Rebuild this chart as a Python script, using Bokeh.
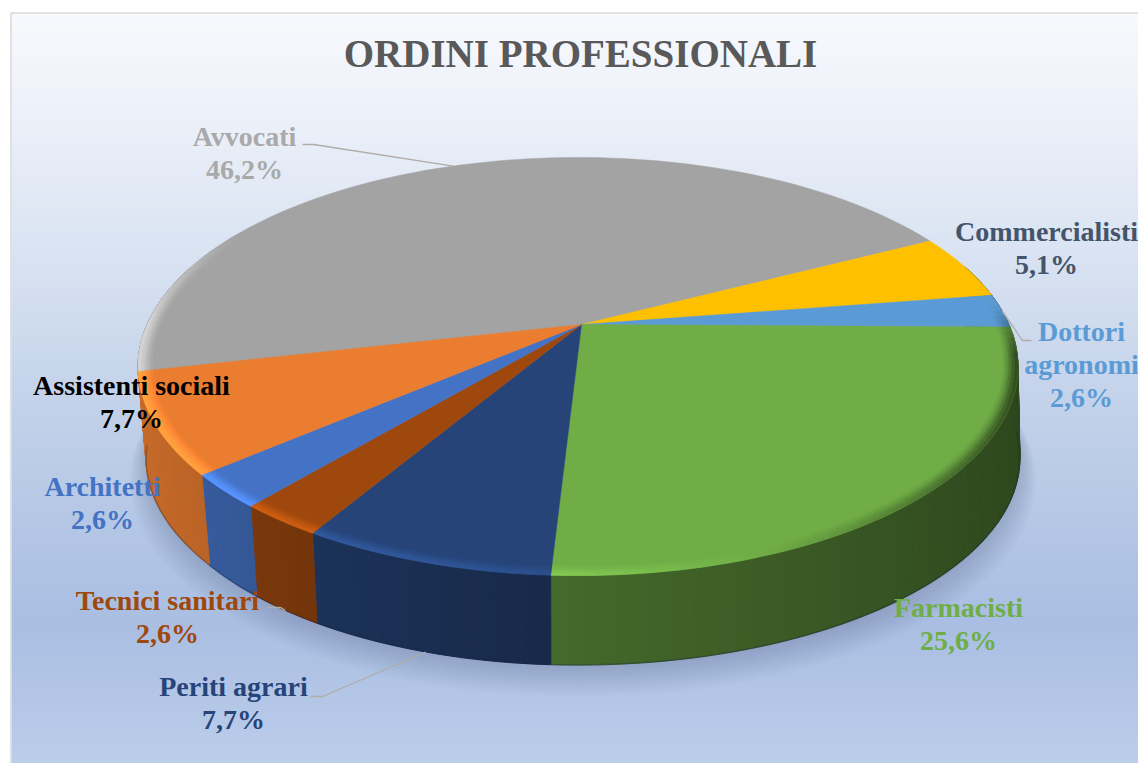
import math
from bokeh.plotting import figure
from bokeh.models import Range1d, ColumnDataSource
from bokeh.core.properties import value
from bokeh.embed import file_html
from bokeh.resources import INLINE

# ---------- data ----------
categories = ["Avvocati", "Commercialisti", "Dottori\nagronomi", "Farmacisti",
              "Periti agrari", "Tecnici sanitari", "Architetti", "Assistenti sociali"]
percent = [46.2, 5.1, 2.6, 25.6, 7.7, 2.6, 2.6, 7.7]
title = "ORDINI PROFESSIONALI"

# ---------- style / layout ----------
slice_colors = ["#a3a3a3", "#ffc000", "#5b9bd5", "#70ad47", "#264478", "#9e480e", "#4472c4", "#ea7d30"]
label_colors = ["#a9a9a9", "#44546a", "#5b9bd5", "#70ad47", "#264478", "#9e480e", "#4472c4", "#000000"]
label_xy = [(244, 136), (1046, 231), (1081, 331), (958, 607), (233, 686), (167, 600), (102, 486), (131, 385)]
line_gap = 33
leader_elbows = {0: [(302, 144), (313, 144)], 2: [(1031, 340), (1022, 340)],
                 4: [(310, 696), (322, 696)], 5: [(266, 607), (280, 607)]}
leader_on_bottom = {4, 5}
bg_stops = [(12, "#f7f9fd"), (130, "#eaeff8"), (250, "#d9e3f2"), (420, "#c0d0e9"),
            (620, "#a9bee2"), (763, "#bccdea")]
X0, Y0, A, B, K = 581.0, 324.0, 431.0, 200.6, 0.201
XS = 3.5
DY, S = 92.0, 0.99
START = 193.3


def rgb(h):
    return tuple(int(h[i:i + 2], 16) for i in (1, 3, 5))


def hexc(c):
    return "#%02x%02x%02x" % tuple(max(0, min(255, int(round(v)))) for v in c)


def shade(h, f):
    return hexc([v * f for v in rgb(h)])


def top_pt(theta, r=1.0):
    u, v = r * math.cos(math.radians(theta)), r * math.sin(math.radians(theta))
    d = 1 + K * v
    return X0 - XS * r + A * u / d, Y0 - B * v / d


def bottom_pt(theta, r=1.0, dy=DY):
    u, v = r * math.cos(math.radians(theta)), r * math.sin(math.radians(theta))
    d = 1 + K * v
    dx = min(8.0, 12 * abs(u) ** 1.5) if u < 0 else 2.0 * u
    return X0 - XS * r + dx + A * u / d, Y0 + dy - S * B * v / d


def frange(a, b, step):
    n = max(1, int(abs(b - a) / step))
    return [a + (b - a) * i / n for i in range(n + 1)]


def lerp_stops(y):
    for (y1, c1), (y2, c2) in zip(bg_stops, bg_stops[1:]):
        if y <= y2:
            t = (y - y1) / (y2 - y1)
            a, b = rgb(c1), rgb(c2)
            return hexc([a[i] + (b[i] - a[i]) * t for i in range(3)])
    return bg_stops[-1][1]


p = figure(width=1138, height=763, x_range=Range1d(0, 1138), y_range=Range1d(763, 0),
           toolbar_location=None, output_backend="svg", min_border=0)
p.axis.visible = False
p.grid.visible = False
p.outline_line_color = None
p.background_fill_color = "#ffffff"
p.border_fill_color = "#ffffff"

# background gradient
ys = list(range(12, 764, 4))
p.quad(left=[11] * len(ys), right=[1140] * len(ys), top=ys, bottom=[y + 5 for y in ys],
       fill_color=[lerp_stops(y) for y in ys], line_color=None)
p.segment(x0=[10.5, 10.5], y0=[12.5, 12.5], x1=[10.5, 1140], y1=[763, 12.5], line_color="#d9d9d9", line_width=1.5)

# soft shadow under the pie
for k in range(1, 11):
    r = 1.0 + 0.0035 * k
    pts = [bottom_pt(t, r, DY + 2.0 * k) for t in frange(0, 360, 3)]
    p.patch([q[0] for q in pts], [q[1] for q in pts], fill_color="#1f3a68", fill_alpha=0.018, line_color=None)

# slice angles
edges = [START]
for v in percent:
    edges.append(edges[-1] - v * 3.6)


# side wall
def wall_factor(u):
    if u < 0:
        return 0.60 + (-u) * 0.26
    return 0.60 - u * 0.20


wx, wy, wc = [], [], []
for i, col in enumerate(slice_colors):
    th = frange(edges[i], edges[i + 1], 1.0)
    for a, b in zip(th, th[1:]):
        if math.sin(math.radians((a + b) / 2)) > 0.30:
            continue
        ta, tb, bb, ba = top_pt(a), top_pt(b), bottom_pt(b), bottom_pt(a)
        wx.append([ta[0], tb[0], bb[0], ba[0]])
        wy.append([ta[1], tb[1], bb[1], ba[1]])
        wc.append(shade(col, wall_factor(math.cos(math.radians((a + b) / 2)))))
p.patches("x", "y", source=ColumnDataSource(dict(x=wx, y=wy, c=wc)), fill_color="c", line_color="c", line_width=1.0)

# dark seam along the wall foot
pts = [bottom_pt(t) for t in frange(-172, -4, 3)]
p.line([q[0] for q in pts], [q[1] for q in pts], line_color="#12203a", line_alpha=0.3, line_width=1.5)

# top surface
tx, ty, tc = [], [], []
for i, col in enumerate(slice_colors):
    th = frange(edges[i], edges[i + 1], 1.5)
    pts = [(X0, Y0)] + [top_pt(t) for t in th]
    tx.append([q[0] for q in pts])
    ty.append([q[1] for q in pts])
    tc.append(col)
p.patches("x", "y", source=ColumnDataSource(dict(x=tx, y=ty, c=tc)), fill_color="c", line_color="c", line_width=0.5)


# bevelled rim
def rim_factor(theta, band):
    u, v = math.cos(math.radians(theta)), math.sin(math.radians(theta))
    front = max(0.0, min(1.0, (0.5 - v) / 0.5))
    light = max(-1.0, min(1.0, (0.35 - u) / 0.7))
    if light >= 0:
        return 1 + 0.30 * light * front * band
    dark = max(0.0, min(1.0, (0.10 - v) / 0.25))
    return 1 - 0.62 * (-light) * dark * band


rx, ry, rc = [], [], []
rings = [(0.968, 0.974, 0.12), (0.974, 0.980, 0.3), (0.980, 0.986, 0.55), (0.986, 0.993, 0.8), (0.993, 1.0, 1.0)]
for i, col in enumerate(slice_colors):
    th = frange(edges[i], edges[i + 1], 1.5)
    for a, b in zip(th, th[1:]):
        for r0, r1, band in rings:
            f = rim_factor((a + b) / 2, band)
            if abs(f - 1) < 0.01:
                continue
            q = [top_pt(a, r0), top_pt(b, r0), top_pt(b, r1), top_pt(a, r1)]
            rx.append([c[0] for c in q])
            ry.append([c[1] for c in q])
            rc.append(shade(col, f))
p.patches("x", "y", source=ColumnDataSource(dict(x=rx, y=ry, c=rc)), fill_color="c", line_color="c", line_width=0.5)

# leader lines
for i, elbow in leader_elbows.items():
    mid = (edges[i] + edges[i + 1]) / 2
    end = bottom_pt(mid) if i in leader_on_bottom else top_pt(mid)
    pts = elbow + [end]
    p.line([q[0] for q in pts], [q[1] for q in pts], line_color="#b0aca6", line_width=1.3)

# labels
lx, ly, lt, lc = [], [], [], []
for name, v, (x, y), c in zip(categories, percent, label_xy, label_colors):
    rows = name.split("\n") + [f"{v:.1f}".replace(".", ",") + "%"]
    for k, row in enumerate(rows):
        lx.append(x)
        ly.append(y + k * line_gap)
        lt.append(row)
        lc.append(c)
p.text(lx, ly, text=lt, text_color=lc, text_align="center", text_baseline="middle",
       text_font=value("Liberation Serif"), text_font_style="bold", text_font_size=value("28px"))
p.text([580], [53], text=[title], text_color="#595959", text_align="center", text_baseline="middle",
       text_font=value("Liberation Serif"), text_font_style="bold", text_font_size=value("39px"))

open("out.html", "w").write(file_html(p, INLINE))
